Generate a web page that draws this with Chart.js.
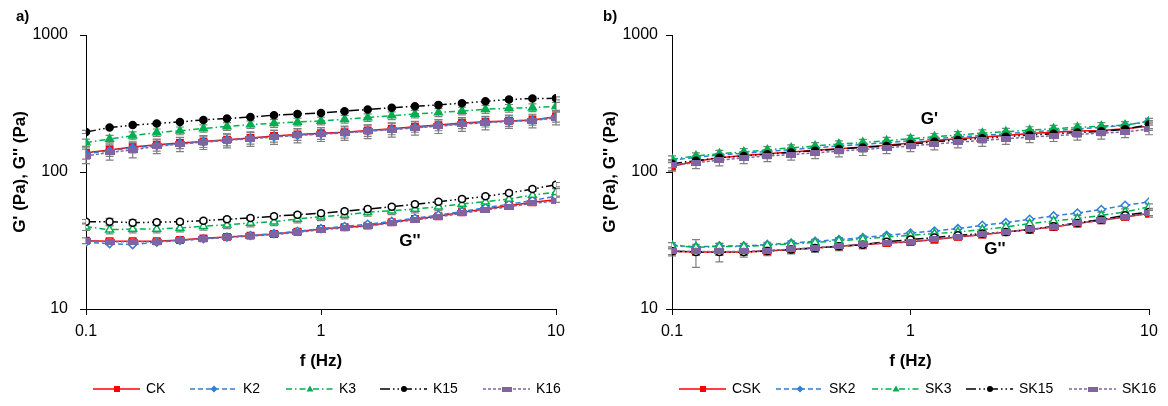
<!DOCTYPE html>
<html>
<head>
<meta charset="utf-8">
<script src="https://cdn.jsdelivr.net/npm/chart.js@4.4.1/dist/chart.umd.min.js"></script>
<style>
  body { margin: 0; background: #fff; }
  .wrap { display: flex; width: 1168px; height: 406px; }
  canvas { display: block; }
</style>
</head>
<body>
<div class="wrap">
  <canvas id="chartA" width="584" height="406"></canvas>
  <canvas id="chartB" width="584" height="406"></canvas>
</div>
<script>
// frequency sweep (Hz), 10 points per decade
const freq = [0.1, 0.126, 0.158, 0.2, 0.251, 0.316, 0.398, 0.501, 0.631, 0.794, 1,
              1.26, 1.58, 2, 2.51, 3.16, 3.98, 5.01, 6.31, 7.94, 10];

const xTicks = [0.1, 1, 10];
const yTicks = [10, 100, 1000];

// ---- panel a ----
const namesA = ['CK', 'K2', 'K3', 'K15', 'K16'];
// storage modulus G'
const CK_G1  = [138, 145, 152, 158, 163, 167, 172, 177, 183, 188, 192, 195, 201, 207, 214, 220, 228, 233, 236, 240, 253];
const K2_G1  = [136, 143, 150, 156, 161, 166, 171, 176, 181, 186, 190, 194, 199, 205, 211, 218, 225, 231, 235, 239, 252];
const K3_G1  = [164, 174, 184, 194, 200, 208, 215, 222, 227, 232, 236, 243, 250, 258, 265, 272, 279, 287, 292, 295, 302];
const K15_G1 = [196, 211, 220, 226, 232, 240, 246, 252, 260, 265, 270, 278, 286, 294, 302, 309, 318, 328, 338, 344, 345];
const K16_G1 = [131, 139, 145, 154, 160, 165, 170, 175, 180, 185, 189, 193, 198, 204, 210, 216, 223, 229, 234, 237, 248];
// loss modulus G''
const CK_G2  = [31.5, 31.2, 31.2, 31.2, 31.9, 32.8, 33.6, 34.3, 35.3, 36.6, 38.4, 39.5, 40.6, 43.0, 45.4, 47.5, 50.8, 53.7, 56.8, 60.1, 62.8];
const K2_G2  = [30.7, 30.0, 29.5, 30.8, 31.6, 32.6, 33.5, 34.4, 35.5, 36.9, 38.6, 40.0, 41.5, 43.6, 46.0, 48.5, 51.5, 54.8, 58.2, 62.0, 66.5];
const K3_G2  = [39.9, 37.9, 38.4, 38.4, 39.0, 40.2, 41.2, 42.4, 43.4, 45.4, 47.2, 48.6, 50.8, 52.2, 53.7, 55.8, 58.4, 60.7, 63.5, 67.9, 71.1];
const K15_G2 = [43.4, 43.4, 42.7, 43.0, 43.4, 44.1, 45.2, 46.2, 47.5, 48.8, 50.0, 51.7, 53.7, 55.8, 58.1, 60.7, 63.5, 66.4, 70.3, 75.1, 80.8];
const K16_G2 = [31.3, 31.0, 31.0, 31.0, 31.7, 32.5, 33.3, 34.0, 35.0, 36.2, 37.9, 39.0, 40.2, 42.5, 44.8, 46.8, 50.0, 52.8, 55.8, 59.0, 61.5];
// standard deviations
const CK_G1_sd  = [14, 15, 14, 16, 15, 16, 17, 17, 18, 18, 19, 18, 19, 20, 19, 20, 21, 20, 21, 20, 22];
const K3_G1_sd  = [10, 11, 12, 12, 13, 13, 14, 14, 15, 15, 15, 16, 16, 17, 17, 18, 18, 19, 19, 19, 20];
const K15_G1_sd = [5, 5, 5, 5, 6, 6, 6, 6, 7, 7, 7, 7, 7, 8, 8, 8, 8, 9, 9, 9, 9];
const K16_G1_sd = [16, 17, 18, 18, 19, 19, 20, 21, 21, 22, 22, 23, 23, 24, 24, 25, 25, 26, 26, 27, 27];
const CK_G2_sd  = [1.5, 1.5, 1.6, 1.5, 1.5, 1.6, 1.6, 1.7, 1.7, 1.8, 1.8, 1.9, 1.9, 2.0, 2.1, 2.2, 2.3, 2.4, 2.5, 2.6, 2.8];
const K3_G2_sd  = [2.5, 2.5, 2.5, 2.5, 2.5, 2.6, 2.6, 2.7, 2.8, 2.9, 3.0, 3.1, 3.2, 3.3, 3.4, 3.5, 3.7, 3.8, 4.0, 4.2, 4.4];
const K15_G2_sd = [1.6, 2.5, 2.2, 1.8, 1.6, 1.6, 1.7, 1.7, 1.8, 1.8, 1.9, 2.0, 2.0, 2.1, 2.2, 2.3, 2.4, 2.5, 2.6, 2.8, 3.0];

// ---- panel b ----
const namesB = ['CSK', 'SK2', 'SK3', 'SK15', 'SK16'];
const CSK_G1  = [110, 120, 127, 132, 136, 140, 144, 148, 152, 157, 163, 170, 175, 180, 185, 191, 195, 199, 201, 207, 216];
const SK2_G1  = [122, 128, 133, 137, 141, 146, 150, 155, 159, 164, 169, 175, 180, 185, 190, 196, 201, 206, 212, 219, 236];
const SK3_G1  = [124, 131, 136, 140, 145, 150, 155, 160, 164, 169, 175, 181, 186, 192, 197, 202, 207, 212, 216, 220, 233];
const SK15_G1 = [115, 121, 127, 131, 135, 139, 143, 147, 151, 155, 160, 166, 171, 176, 181, 186, 190, 194, 198, 205, 222];
const SK16_G1 = [112, 117, 122, 127, 131, 134, 138, 142, 146, 150, 155, 160, 165, 170, 175, 180, 184, 188, 192, 196, 206];
const CSK_G2  = [26.4, 26.1, 26.1, 26.1, 26.5, 27.2, 27.9, 28.7, 29.5, 30.3, 30.8, 32.1, 33.6, 34.9, 36.5, 38.0, 39.7, 42.0, 44.4, 47.0, 49.7];
const SK2_G2  = [29.2, 28.4, 28.8, 28.8, 29.5, 30.3, 31.2, 32.1, 33.2, 34.5, 35.9, 37.1, 38.6, 40.8, 42.7, 45.2, 47.8, 50.2, 53.2, 57.2, 60.4];
const SK3_G2  = [29.0, 28.2, 28.6, 28.6, 29.2, 29.8, 30.6, 31.5, 32.4, 33.6, 34.5, 35.5, 36.5, 38.0, 39.7, 42.0, 43.9, 45.7, 48.3, 51.1, 55.6];
const SK15_G2 = [26.4, 26.1, 26.1, 26.1, 26.5, 27.2, 27.9, 28.7, 29.5, 31.0, 32.1, 33.2, 34.5, 35.5, 36.5, 38.0, 40.2, 42.5, 45.0, 48.3, 51.1];
const SK16_G2 = [26.6, 26.3, 26.3, 26.3, 26.7, 27.4, 28.0, 28.8, 29.6, 30.4, 31.0, 32.2, 33.7, 35.0, 36.6, 38.1, 39.8, 42.1, 44.5, 47.1, 49.9];
const CSK_G1_sd  = [8, 8, 9, 9, 9, 10, 10, 10, 11, 11, 11, 12, 12, 12, 13, 13, 13, 14, 14, 14, 15];
const SK3_G1_sd  = [7, 7, 8, 8, 8, 8, 9, 9, 9, 10, 10, 10, 11, 11, 11, 12, 12, 12, 13, 13, 13];
const SK15_G1_sd = [8, 9, 9, 9, 10, 10, 10, 11, 11, 11, 12, 12, 12, 13, 13, 13, 14, 14, 14, 15, 15];
const SK16_G1_sd = [10, 11, 11, 12, 12, 12, 13, 13, 14, 14, 14, 15, 15, 16, 16, 16, 17, 17, 18, 18, 19];
const CSK_G2_sd  = [1.4, 1.4, 1.4, 1.4, 1.5, 1.5, 1.5, 1.6, 1.6, 1.7, 1.7, 1.8, 1.8, 1.9, 2.0, 2.1, 2.2, 2.3, 2.4, 2.6, 2.8];
const SK3_G2_sd  = [1.5, 1.5, 1.5, 1.5, 1.5, 1.6, 1.6, 1.7, 1.7, 1.8, 1.8, 1.9, 2.0, 2.0, 2.1, 2.2, 2.3, 2.4, 2.6, 2.7, 2.9];
const SK15_G2_sd = [2.0, 6.0, 4.0, 2.2, 2.0, 2.0, 2.0, 2.0, 2.0, 2.0, 2.0, 2.0, 2.1, 2.1, 2.2, 2.3, 2.4, 2.5, 2.7, 2.9, 3.1];

const FONT = '"Liberation Sans", Arial, sans-serif';
const colors = ['#ff0000', '#2f7ed8', '#00b050', '#000000', '#8064a2'];
const dashes = [[], [5, 3], [6, 3, 1.5, 3], [10, 3, 1.5, 3, 1.5, 3], [3, 2]];
// legend slots, offset from the left edge of the plot area
const legendSlots = [7, 104, 200, 294, 397];

// flat purple bar marker
const barMark = document.createElement('canvas');
barMark.width = 10; barMark.height = 6;
(function () { const c = barMark.getContext('2d'); c.fillStyle = colors[4]; c.fillRect(0, 0, 10, 6); })();
const markers = [
  { style: 'rect', r: 4.5 },
  { style: 'rectRot', r: 4 },
  { style: 'triangle', r: 4.5 },
  { style: 'circle', r: 3.5 },
  { style: barMark, r: 4 }
];

function series(idx, label, values, sd, hollow) {
  const c = colors[idx];
  return {
    label,
    data: values.map((v, i) => ({ x: freq[i], y: v })),
    sd: sd || null,
    legend: !hollow,
    order: 20 - idx - (hollow ? 0 : 10),
    borderColor: c,
    borderWidth: 1.5,
    borderDash: dashes[idx],
    pointStyle: markers[idx].style,
    pointRadius: markers[idx].r,
    pointHoverRadius: markers[idx].r,
    pointBackgroundColor: hollow && idx !== 4 ? '#ffffff' : c,
    pointBorderColor: c,
    pointBorderWidth: 1.5,
    tension: 0,
    fill: false
  };
}

// vertical error bars with caps, drawn under the markers
const errorBars = {
  id: 'errorBars',
  beforeDatasetsDraw(chart) {
    const { ctx } = chart;
    const xs = chart.scales.x, ys = chart.scales.y;
    ctx.save();
    ctx.strokeStyle = '#808080';
    ctx.lineWidth = 1.2;
    chart.data.datasets.forEach(ds => {
      if (!ds.sd) return;
      ds.data.forEach((p, i) => {
        const e = ds.sd[i];
        const px = xs.getPixelForValue(p.x);
        const top = ys.getPixelForValue(p.y + e);
        const bot = ys.getPixelForValue(Math.max(p.y - e, 1));
        ctx.beginPath();
        ctx.moveTo(px, top); ctx.lineTo(px, bot);
        ctx.moveTo(px - 4, top); ctx.lineTo(px + 4, top);
        ctx.moveTo(px - 4, bot); ctx.lineTo(px + 4, bot);
        ctx.stroke();
      });
    });
    ctx.restore();
  }
};

function legendMarker(ctx, ds, x, y) {
  const st = ds.pointStyle, c = ds.borderColor;
  ctx.save();
  ctx.fillStyle = c; ctx.strokeStyle = c; ctx.setLineDash([]);
  if (typeof st !== 'string') {
    ctx.drawImage(st, x - st.width / 2, y - 2.5, st.width, 5);
  } else {
    ctx.beginPath();
    if (st === 'rect') ctx.rect(x - 3, y - 3, 6, 6);
    else if (st === 'rectRot') { ctx.moveTo(x, y - 3.5); ctx.lineTo(x + 3.5, y); ctx.lineTo(x, y + 3.5); ctx.lineTo(x - 3.5, y); ctx.closePath(); }
    else if (st === 'triangle') { ctx.moveTo(x, y - 3.5); ctx.lineTo(x + 3.5, y + 2.5); ctx.lineTo(x - 3.5, y + 2.5); ctx.closePath(); }
    else ctx.arc(x, y, 3, 0, Math.PI * 2);
    ctx.fill();
  }
  ctx.restore();
}

// panel tag, curve labels and the line-sample legend
const decorations = {
  id: 'decorations',
  afterDraw(chart, args, opts) {
    const { ctx, chartArea } = chart;
    const xs = chart.scales.x, ys = chart.scales.y;
    ctx.save();
    ctx.fillStyle = '#000';
    ctx.textBaseline = 'middle';
    ctx.textAlign = 'left';
    ctx.font = 'bold 15px ' + FONT;
    ctx.fillText(opts.tag, opts.tagX, 17);
    ctx.textAlign = 'center';
    ctx.font = 'bold 17px ' + FONT;
    opts.notes.forEach(n => ctx.fillText(n.text, xs.getPixelForValue(n.x), ys.getPixelForValue(n.y)));

    const ly = 389;
    ctx.font = '14px ' + FONT;
    ctx.textAlign = 'left';
    chart.data.datasets.filter(d => d.legend).forEach((ds, i) => {
      const lx = chartArea.left + legendSlots[i];
      ctx.save();
      ctx.strokeStyle = ds.borderColor;
      ctx.lineWidth = 1.5;
      ctx.setLineDash(ds.borderDash);
      ctx.beginPath(); ctx.moveTo(lx, ly); ctx.lineTo(lx + 47, ly); ctx.stroke();
      ctx.restore();
      legendMarker(ctx, ds, lx + 24, ly);
      ctx.fillStyle = '#000';
      ctx.fillText(ds.label, lx + 53, ly);
    });
    ctx.restore();
  }
};

function makeChart(id, datasets, cfg) {
  return new Chart(document.getElementById(id), {
    type: 'line',
    data: { datasets },
    plugins: [errorBars, decorations],
    options: {
      responsive: false,
      animation: false,
      events: [],
      layout: { padding: { top: 35, right: cfg.right, bottom: 34, left: 0 } },
      plugins: {
        legend: { display: false },
        tooltip: { enabled: false },
        decorations: { tag: cfg.tag, tagX: cfg.tagX, notes: cfg.notes }
      },
      scales: {
        x: {
          type: 'logarithmic', min: 0.1, max: 10,
          afterFit: s => { s.height = 63; },
          afterBuildTicks: s => { s.ticks = xTicks.map(v => ({ value: v, major: true })); },
          ticks: { callback: v => String(v), color: '#000', font: { family: FONT, size: 16 }, padding: 7, maxRotation: 0 },
          grid: { display: true, drawOnChartArea: false, drawTicks: true, tickLength: 6, color: '#000' },
          border: { display: true, color: '#000', width: 1 },
          title: { display: true, text: 'f (Hz)', color: '#000', font: { family: FONT, size: 17, weight: 'bold' }, padding: 0 }
        },
        y: {
          type: 'logarithmic', min: 10, max: 1000,
          afterFit: s => { s.width = cfg.axisX; },
          afterBuildTicks: s => { s.ticks = yTicks.map(v => ({ value: v, major: true })); },
          ticks: { callback: v => String(v), color: '#000', font: { family: FONT, size: 16 }, padding: cfg.tickPad },
          grid: { display: true, drawOnChartArea: false, drawTicks: true, tickLength: 6, color: '#000' },
          border: { display: true, color: '#000', width: 1 },
          title: { display: true, text: "G' (Pa), G'' (Pa)", color: '#000', font: { family: FONT, size: 17, weight: 'bold' }, padding: { top: cfg.titlePad, bottom: 0 } }
        }
      }
    }
  });
}

makeChart('chartA', [
  series(0, namesA[0], CK_G1, CK_G1_sd, false),
  series(1, namesA[1], K2_G1, null, false),
  series(2, namesA[2], K3_G1, K3_G1_sd, false),
  series(3, namesA[3], K15_G1, K15_G1_sd, false),
  series(4, namesA[4], K16_G1, K16_G1_sd, false),
  series(0, namesA[0] + " G''", CK_G2, CK_G2_sd, true),
  series(1, namesA[1] + " G''", K2_G2, null, true),
  series(2, namesA[2] + " G''", K3_G2, K3_G2_sd, true),
  series(3, namesA[3] + " G''", K15_G2, K15_G2_sd, true),
  series(4, namesA[4] + " G''", K16_G2, null, true)
], { right: 28, axisX: 86, tickPad: 12, titlePad: 10, tag: 'a)', tagX: 16,
     notes: [{ text: "G''", x: 2.39, y: 31.3 }] });

makeChart('chartB', [
  series(0, namesB[0], CSK_G1, CSK_G1_sd, false),
  series(1, namesB[1], SK2_G1, null, false),
  series(2, namesB[2], SK3_G1, SK3_G1_sd, false),
  series(3, namesB[3], SK15_G1, SK15_G1_sd, false),
  series(4, namesB[4], SK16_G1, SK16_G1_sd, false),
  series(0, namesB[0] + " G''", CSK_G2, CSK_G2_sd, true),
  series(1, namesB[1] + " G''", SK2_G2, null, true),
  series(2, namesB[2] + " G''", SK3_G2, SK3_G2_sd, true),
  series(3, namesB[3] + " G''", SK15_G2, SK15_G2_sd, true),
  series(4, namesB[4] + " G''", SK16_G2, null, true)
], { right: 19, axisX: 88, tickPad: 8, titlePad: 16, tag: 'b)', tagX: 19,
     notes: [{ text: "G'", x: 1.2, y: 243 }, { text: "G''", x: 2.26, y: 27.3 }] });
</script>
</body>
</html>
